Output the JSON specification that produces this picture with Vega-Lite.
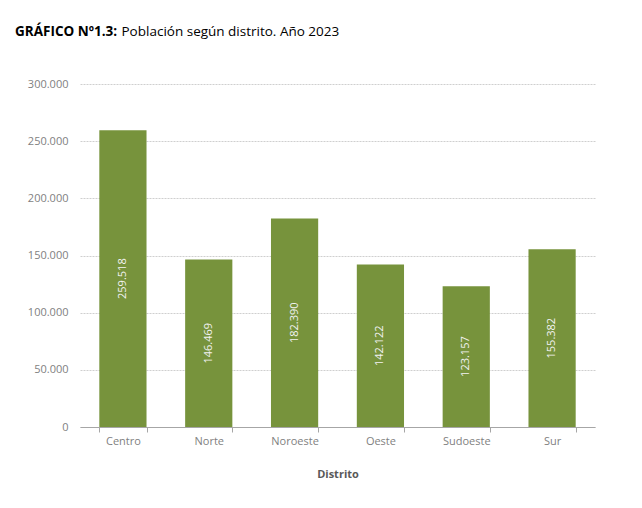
{
  "$schema": "https://vega.github.io/schema/vega-lite/v6.json",
  "autosize": {"type": "none"},
  "padding": {"left": 80, "top": 84, "right": 47, "bottom": 81},
  "width": 515,
  "height": 343,
  "background": "white",
  "title": {
    "text": "GRÁFICO Nº1.3:",
    "anchor": "start",
    "frame": "group",
    "orient": "top",
    "offset": 0,
    "baseline": "alphabetic",
    "dx": -65,
    "dy": 25,
    "font": "Open Sans",
    "fontSize": 13.5,
    "fontWeight": "bold",
    "color": "#000000"
  },
  "data": {
    "values": [
      {"Distrito": "Centro", "Poblacion": 259518},
      {"Distrito": "Norte", "Poblacion": 146469},
      {"Distrito": "Noroeste", "Poblacion": 182390},
      {"Distrito": "Oeste", "Poblacion": 142122},
      {"Distrito": "Sudoeste", "Poblacion": 123157},
      {"Distrito": "Sur", "Poblacion": 155382}
    ]
  },
  "encoding": {
    "x": {
      "field": "Distrito",
      "type": "nominal",
      "sort": null,
      "scale": {"paddingInner": 0.45, "paddingOuter": 0.225},
      "axis": {
        "title": "Distrito",
        "labelAngle": 0,
        "tickBand": "extent",
        "tickSize": 5,
        "tickColor": "#a6a6a6",
        "domainColor": "#a6a6a6",
        "labelPadding": 3,
        "labelColor": "#7f7f7f",
        "labelFont": "Open Sans",
        "labelFontSize": 11,
        "titleFont": "Open Sans",
        "titleFontSize": 11,
        "titleFontWeight": "bold",
        "titleColor": "#595959",
        "titlePadding": 22
      }
    },
    "y": {
      "field": "Poblacion",
      "type": "quantitative",
      "scale": {"domain": [0, 300000]},
      "axis": {
        "title": "Población según distrito. Año 2023",
        "titleAngle": 0,
        "titleAlign": "left",
        "titleBaseline": "alphabetic",
        "titleX": 41,
        "titleY": -49,
        "titleFont": "Open Sans",
        "titleFontSize": 13.5,
        "titleFontWeight": "normal",
        "titleColor": "#000000",
        "values": [0, 50000, 100000, 150000, 200000, 250000, 300000],
        "format": ",d",
        "domain": false,
        "ticks": false,
        "labelPadding": 12,
        "labelColor": "#7f7f7f",
        "labelFont": "Open Sans",
        "labelFontSize": 11,
        "gridColor": "#cfcfcf",
        "gridDash": [2, 1]
      }
    }
  },
  "layer": [
    {
      "mark": {"type": "bar", "color": "#77933c"}
    },
    {
      "transform": [{"calculate": "datum.Poblacion / 2", "as": "Centro_etiqueta"}],
      "mark": {
        "type": "text",
        "angle": 270,
        "align": "center",
        "baseline": "middle",
        "color": "#f2f2f2",
        "font": "Open Sans",
        "fontSize": 11
      },
      "encoding": {
        "y": {"field": "Centro_etiqueta", "type": "quantitative"},
        "text": {"field": "Poblacion", "type": "quantitative", "format": ",d"}
      }
    }
  ],
  "config": {
    "view": {"stroke": null},
    "locale": {
      "number": {
        "decimal": ",",
        "thousands": ".",
        "grouping": [3],
        "currency": ["", " €"]
      }
    }
  }
}
